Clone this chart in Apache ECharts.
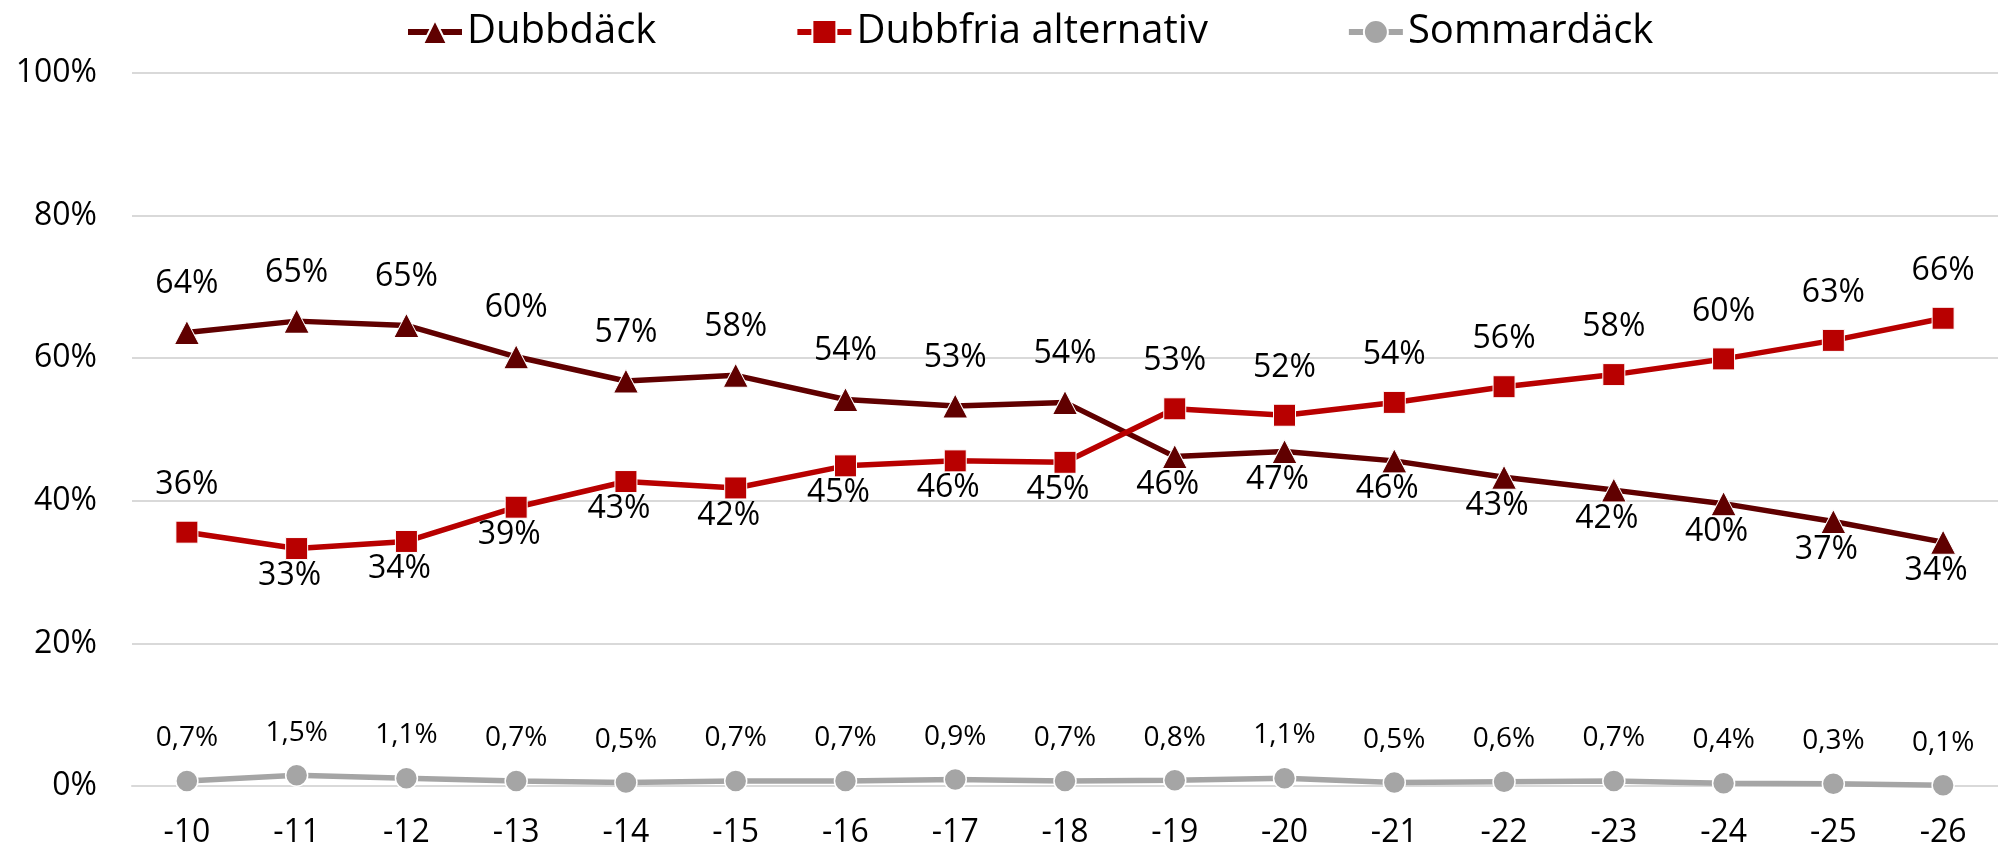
<!DOCTYPE html>
<html>
<head>
<meta charset="utf-8">
<script src="https://cdn.jsdelivr.net/npm/echarts@6/dist/echarts.min.js"></script>
<style>
  html, body { margin: 0; padding: 0; background: #fff; }
  #main { width: 1998px; height: 852px; }
</style>
</head>
<body>
<div id="main"></div>
<script>
// kategorier (x-axel)
var weeks = ['-10', '-11', '-12', '-13', '-14', '-15', '-16', '-17', '-18',
  '-19', '-20', '-21', '-22', '-23', '-24', '-25', '-26'];
// andel i procent
var dubbdack = [63.6, 65.2, 64.6, 60.2, 56.8, 57.6, 54.2, 53.3, 53.8,
  46.2, 46.9, 45.6, 43.3, 41.5, 39.6, 37.1, 34.2];
var dubbfria = [35.6, 33.3, 34.3, 39.1, 42.7, 41.8, 44.9, 45.6, 45.4,
  52.9, 52.0, 53.8, 56.0, 57.7, 59.9, 62.5, 65.6];
var sommar = [0.7, 1.5, 1.1, 0.7, 0.5, 0.7, 0.7, 0.9, 0.7,
  0.8, 1.1, 0.5, 0.6, 0.7, 0.4, 0.3, 0.1];
var yTicks = [0, 20, 40, 60, 80, 100];

var FONT = 'Open Sans';

function pct(v) { return Math.round(v) + '%'; }
function pct1(v) { return v.toFixed(1).replace('.', ',') + '%'; }

// label ovanför om serien ligger högst, annars under (första punkten alltid ovanför)
function withLabels(values, other) {
  return values.map(function (v, i) {
    var above = v >= other[i] || i === 0;
    return {
      value: v,
      label: above
        ? { position: 'top', distance: 20 }
        : { position: 'bottom', distance: 0, offset: [-7, 0] }
    };
  });
}

var chart = echarts.init(document.getElementById('main'), null, { renderer: 'canvas' });

var option = {
  animation: false,
  backgroundColor: '#fff',
  textStyle: { fontFamily: FONT, color: '#000' },
  legend: {
    top: 7,
    left: 400,
    itemWidth: 54,
    itemHeight: 30,
    itemGap: 138,
    textStyle: { fontFamily: FONT, fontSize: 40, color: '#000' },
    lineStyle: { width: 6 },
    data: ['Dubbdäck', 'Dubbfria alternativ', 'Sommardäck']
  },
  grid: {
    left: 132,
    right: 0,
    top: 73,
    bottom: 66,
    containLabel: false
  },
  xAxis: {
    type: 'category',
    data: weeks,
    boundaryGap: true,
    axisLine: { show: true, lineStyle: { color: '#D9D9D9', width: 2 } },
    axisTick: { show: false },
    axisLabel: { fontFamily: FONT, fontSize: 32, color: '#000', margin: 31 }
  },
  yAxis: {
    type: 'value',
    min: yTicks[0],
    max: yTicks[yTicks.length - 1],
    interval: 20,
    axisLine: { show: false },
    axisTick: { show: false },
    splitLine: { lineStyle: { color: '#D9D9D9', width: 2 } },
    axisLabel: {
      fontFamily: FONT, fontSize: 32, color: '#000', margin: 35,
      formatter: '{value}%'
    }
  },
  series: [
    {
      name: 'Dubbdäck',
      type: 'line',
      data: withLabels(dubbdack, dubbfria),
      symbol: 'triangle',
      symbolSize: [25, 24],
      lineStyle: { color: '#600000', width: 5.5 },
      itemStyle: { color: '#600000', borderColor: '#fff', borderWidth: 1 },
      label: {
        show: true,
        fontFamily: FONT, fontSize: 32, color: '#000',
        formatter: function (p) { return pct(p.value); }
      },
      z: 3
    },
    {
      name: 'Dubbfria alternativ',
      type: 'line',
      data: withLabels(dubbfria, dubbdack),
      symbol: 'rect',
      symbolSize: 22,
      lineStyle: { color: '#B80000', width: 5.5 },
      itemStyle: { color: '#B80000', borderColor: '#fff', borderWidth: 1 },
      label: {
        show: true,
        fontFamily: FONT, fontSize: 32, color: '#000',
        formatter: function (p) { return pct(p.value); }
      },
      z: 4
    },
    {
      name: 'Sommardäck',
      type: 'line',
      data: sommar,
      symbol: 'circle',
      symbolSize: 22,
      lineStyle: { color: '#A5A5A5', width: 5.5 },
      itemStyle: { color: '#A5A5A5', borderColor: '#fff', borderWidth: 1.5 },
      label: {
        show: true,
        position: 'top',
        distance: 17,
        fontFamily: FONT, fontSize: 28, color: '#000',
        formatter: function (p) { return pct1(p.value); }
      },
      z: 2
    }
  ]
};

chart.setOption(option);
</script>
</body>
</html>
